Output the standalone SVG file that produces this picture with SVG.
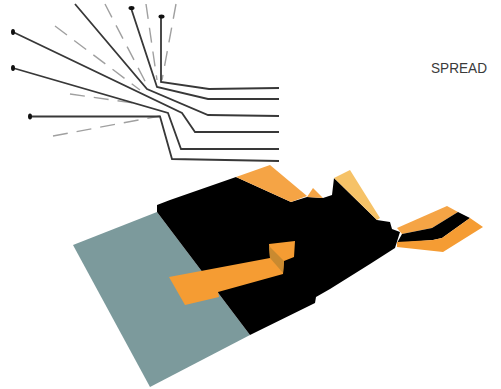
<svg xmlns="http://www.w3.org/2000/svg" width="501" height="389" viewBox="0 0 501 389">
<style>
.l{fill:none;stroke:#383838;stroke-width:1.8}
.d{fill:none;stroke:#a0a0a0;stroke-width:1.4;stroke-dasharray:15 9}
.o{fill:#f59c33}
.t{font-family:"Liberation Sans",Arial,sans-serif;font-size:15.5px;fill:#3a3a3a}
</style>
<defs><ellipse id="h" rx="2" ry="3" fill="#111"/></defs>
<rect width="501" height="389" fill="#fff"/>
<g id="connectors">
<path class="d" d="M105 4L147 85"/>
<path class="d" d="M55 26L140 90"/>
<path class="d" d="M70 94L140 104"/>
<path class="d" d="M53 136L160 116"/>
<path class="d" d="M146 4L157 80"/>
<path class="d" d="M176 4L162 80"/>
<path class="l" d="M75 4L147 89L208 115L279 116"/>
<path class="l" d="M13 32L182 113L195 132L279 132"/>
<path class="l" d="M13 68L168 113L181 149L279 149"/>
<path class="l" d="M30 116.500L160 116.500L172 159L279 161"/>
<path class="l" d="M131 8L157 87L208 99L279 99"/>
<path class="l" d="M161 17L161 82L209 89L279 88"/>
<use href="#h" x="13" y="32"/>
<use href="#h" x="13" y="68"/>
<use href="#h" x="30" y="116.500"/>
<use href="#h" x="131.500" y="8" transform="rotate(90 131.500 8)"/>
<use href="#h" x="161.500" y="16.500" transform="rotate(90 161.500 16.500)"/>
</g>
<g id="ground"><path fill="#7c9a9c" d="M73 245L157 212L250 335L150 387Z"/></g>
<g id="terrain"><path fill="#000" d="M157 205L170 200L236 177L291 202L307 197L323 198L332 195L334 178L377 220L390 222L392 229L400 232L395 248L370 264L330 289L316 297L315 303L250 335L157 212Z"/></g>
<g id="upper-orange">
<path fill="#f5a445" d="M236 177L270 165L307 196L291 202Z"/>
<path fill="#f5a445" d="M307 197L313 188L323 198Z"/>
<path fill="#f6c267" d="M334 178L350 170L380 218L377 220Z"/>
</g>
<g id="right-arm">
<path fill="#f5a445" d="M397 228L447 206L458 212L432 228L402 234Z"/>
<path fill="#000" d="M458 212L470 218L442 238L433 240L397 243L402 234L432 228Z"/>
<path class="o" d="M470 218L483 227L443 252L397 247L397 242L433 240L442 238Z"/>
</g>
<g id="left-arm">
<path class="o" d="M169 277L270 258L269 244L295 241L294 257L284 261L283 274L218 292L219 297L185 305Z"/>
<path fill="#c98a30" d="M269 246L284 261L283 273L270 258Z"/>
</g>
<g id="label"><text class="t" x="431" y="73" textLength="56" lengthAdjust="spacingAndGlyphs">SPREAD</text></g>
</svg>
